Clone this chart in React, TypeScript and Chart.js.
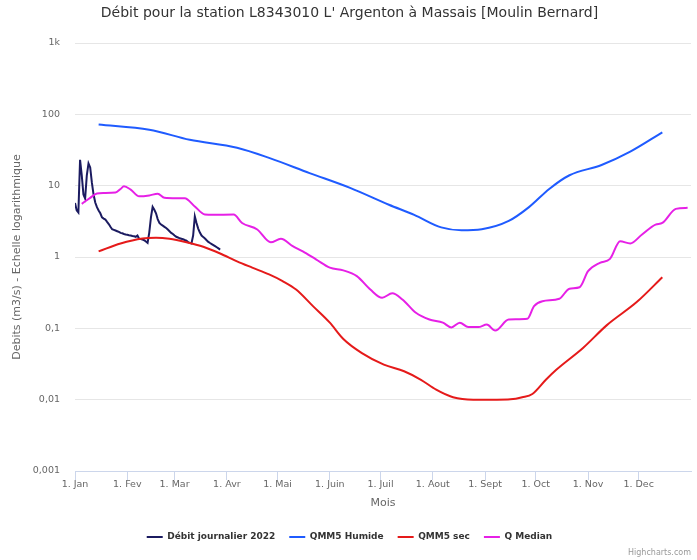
import React, { useEffect, useRef } from 'react';
import { Chart, registerables } from 'chart.js';

Chart.register(...registerables);

// ---- Axis categories / ticks ----
const monthStartDays = [0, 31, 59, 90, 120, 151, 181, 212, 243, 273, 304, 334];
const monthLabels = ['1. Jan', '1. Fev', '1. Mar', '1. Avr', '1. Mai', '1. Juin', '1. Juil', '1. Aout', '1. Sept', '1. Oct', '1. Nov', '1. Dec'];
const yTickValues = [0.001, 0.01, 0.1, 1, 10, 100, 1000];
const yTickLabels = ['0,001', '0,01', '0,1', '1', '10', '100', '1k'];

// ---- Débit journalier 2022 (one value per day from 1 Jan) ----
const daily2022Values = [
  5.7, 4.5, 4.2, 23, 14, 7.5, 6.6, 14, 20.5, 18,
  11, 7.5, 5.8, 5.0, 4.5, 4.1, 3.6, 3.45, 3.35, 3.1,
  2.9, 2.65, 2.45, 2.4, 2.35, 2.3, 2.25, 2.18, 2.15, 2.1,
  2.07, 2.05, 2.02, 2.0, 1.97, 1.95, 1.92, 2.0, 1.8, 1.78,
  1.75, 1.72, 1.65, 1.58, 2.2, 3.6, 5.05, 4.6, 4.1, 3.4,
  3.0, 2.85, 2.75, 2.65, 2.55, 2.43, 2.3, 2.18, 2.1, 2.0,
  1.92, 1.88, 1.83, 1.8, 1.77, 1.73, 1.7, 1.62, 1.58, 1.55,
  2.0, 3.7, 3.0, 2.5, 2.2, 2.0, 1.9, 1.82, 1.72, 1.63,
  1.57, 1.52, 1.47, 1.42, 1.37, 1.32, 1.27,
];

// ---- QMM5 Humide ----
const humideDays = [14, 44, 68, 96, 115, 139, 163, 186, 201, 217, 229, 241, 257, 269, 281, 293, 312, 329, 348];
const humideValues = [72, 61, 44, 34, 24.5, 15, 9.3, 5.4, 3.9, 2.6, 2.37, 2.45, 3.2, 5, 9, 14, 19.5, 30, 56];

// ---- QMM5 sec ----
const secDays = [14, 27, 40, 48, 56, 66, 76, 86, 96, 105, 115, 123, 131, 141, 151, 159, 170, 183, 195, 205, 214, 224, 236, 250, 258, 265, 271, 279, 285, 301, 315, 333, 348];
const secValues = [1.2, 1.55, 1.82, 1.86, 1.8, 1.61, 1.39, 1.12, 0.87, 0.71, 0.57, 0.46, 0.35, 0.205, 0.12, 0.071, 0.045, 0.031, 0.025, 0.019, 0.0138, 0.0108, 0.01, 0.01, 0.0101, 0.0108, 0.012, 0.019, 0.026, 0.053, 0.11, 0.235, 0.52];

// ---- Q Median ----
const medianDays = [4, 9, 13, 17, 24, 27, 29, 33, 38, 44, 49, 53, 60, 65, 71, 77, 82, 94, 99, 108, 116, 122, 129, 135, 143, 151, 159, 167, 175, 182, 188, 194, 202, 210, 218, 223, 228, 233, 239, 244, 249, 257, 268, 272, 277, 287, 293, 299, 304, 311, 317, 323, 329, 336, 344, 348, 356, 363];
const medianValues = [5.56, 6.76, 7.76, 7.9, 8.0, 9.0, 9.8, 8.8, 7.1, 7.3, 7.7, 6.75, 6.66, 6.66, 5.1, 3.94, 3.9, 3.94, 3.0, 2.43, 1.61, 1.8, 1.42, 1.2, 0.92, 0.71, 0.65, 0.54, 0.35, 0.268, 0.31, 0.254, 0.165, 0.133, 0.12, 0.103, 0.12, 0.104, 0.104, 0.113, 0.093, 0.133, 0.136, 0.205, 0.24, 0.26, 0.36, 0.377, 0.633, 0.83, 0.94, 1.66, 1.55, 2.07, 2.85, 3.0, 4.73, 4.89];

const NAVY = '#1b1b60';
const BLUE = '#1f5bff';
const RED = '#e51a1a';
const MAGENTA = '#e620e6';
const FONT = 'DejaVu Sans';

const toPoints = (days: number[], vals: number[]) => days.map((d, i) => ({ x: d, y: vals[i] }));

export default function App() {
  const ref = useRef<HTMLCanvasElement>(null);

  useEffect(() => {
    document.body.style.margin = '0';
    const canvas = ref.current;
    if (!canvas) return;

    const credits = {
      id: 'credits',
      afterDraw(chart: any) {
        const c = chart.ctx;
        c.save();
        c.font = `8px "${FONT}"`;
        c.fillStyle = '#999999';
        c.textAlign = 'right';
        c.textBaseline = 'middle';
        c.fillText('Highcharts.com', 691, 553);
        c.restore();
      },
    };

    const chart = new Chart(canvas, {
      type: 'line',
      data: {
        datasets: [
          {
            label: 'Débit journalier 2022',
            data: daily2022Values.map((v, i) => ({ x: i, y: v })),
            borderColor: NAVY,
            backgroundColor: NAVY,
            borderWidth: 2,
            pointRadius: 0,
            tension: 0,
            order: 4,
          },
          {
            label: 'QMM5 Humide',
            data: toPoints(humideDays, humideValues),
            borderColor: BLUE,
            backgroundColor: BLUE,
            borderWidth: 2,
            pointRadius: 0,
            cubicInterpolationMode: 'monotone',
            order: 3,
          },
          {
            label: 'QMM5 sec',
            data: toPoints(secDays, secValues),
            borderColor: RED,
            backgroundColor: RED,
            borderWidth: 2,
            pointRadius: 0,
            cubicInterpolationMode: 'monotone',
            order: 2,
          },
          {
            label: 'Q Median',
            data: toPoints(medianDays, medianValues),
            borderColor: MAGENTA,
            backgroundColor: MAGENTA,
            borderWidth: 2,
            pointRadius: 0,
            cubicInterpolationMode: 'monotone',
            order: 1,
          },
        ],
      },
      options: {
        responsive: false,
        animation: false,
        events: [],
        layout: { padding: { left: 8, right: 6, top: 0, bottom: 8.5 } },
        plugins: {
          title: {
            display: true,
            text: "Débit pour la station L8343010 L' Argenton à Massais [Moulin Bernard]",
            color: '#333333',
            font: { family: FONT, size: 14, weight: 'normal' },
            padding: { top: 5, bottom: 21.2 },
          },
          legend: {
            position: 'bottom',
            labels: {
              color: '#333333',
              font: { family: FONT, size: 9, weight: 'bold' },
              usePointStyle: true,
              pointStyle: 'line',
              pointStyleWidth: 16,
              padding: 14,
              sort: (a: any, b: any) => a.datasetIndex - b.datasetIndex,
            },
          },
          tooltip: { enabled: false },
        },
        scales: {
          x: {
            type: 'linear',
            min: 0,
            max: 365,
            afterBuildTicks: (s: any) => {
              s.ticks = monthStartDays.map((v) => ({ value: v }));
            },
            afterFit: (s: any) => {
              s.height = 47.5;
            },
            ticks: {
              callback: (_v: any, i: number) => monthLabels[i],
              color: '#666666',
              font: { family: FONT, size: 9.5 },
              padding: -1,
              maxRotation: 0,
              autoSkip: false,
            },
            grid: {
              drawOnChartArea: false,
              drawTicks: true,
              tickLength: 9,
              color: '#ccd6eb',
              lineWidth: 1,
            },
            border: { display: true, color: '#ccd6eb', width: 1 },
            title: {
              display: true,
              text: 'Mois',
              color: '#666666',
              font: { family: FONT, size: 11 },
              padding: { top: 0, bottom: 8.9 },
            },
          },
          y: {
            type: 'logarithmic',
            min: 0.001,
            max: 1000,
            afterBuildTicks: (s: any) => {
              s.ticks = yTickValues.map((v) => ({ value: v }));
            },
            afterFit: (s: any) => {
              s.width = 67;
            },
            ticks: {
              callback: (_v: any, i: number) => yTickLabels[i],
              color: '#666666',
              font: { family: FONT, size: 9.5 },
              padding: 15,
              autoSkip: false,
            },
            grid: { color: '#e6e6e6', drawTicks: false, lineWidth: 1 },
            border: { display: false },
            title: {
              display: true,
              text: 'Debits (m3/s) - Echelle logarithmique',
              color: '#666666',
              font: { family: FONT, size: 11 },
              padding: { top: 2.4, bottom: 0 },
            },
          },
        },
      } as any,
      plugins: [credits],
    });

    return () => chart.destroy();
  }, []);

  return <canvas ref={ref} width={697} height={560} style={{ display: 'block' }} />;
}
